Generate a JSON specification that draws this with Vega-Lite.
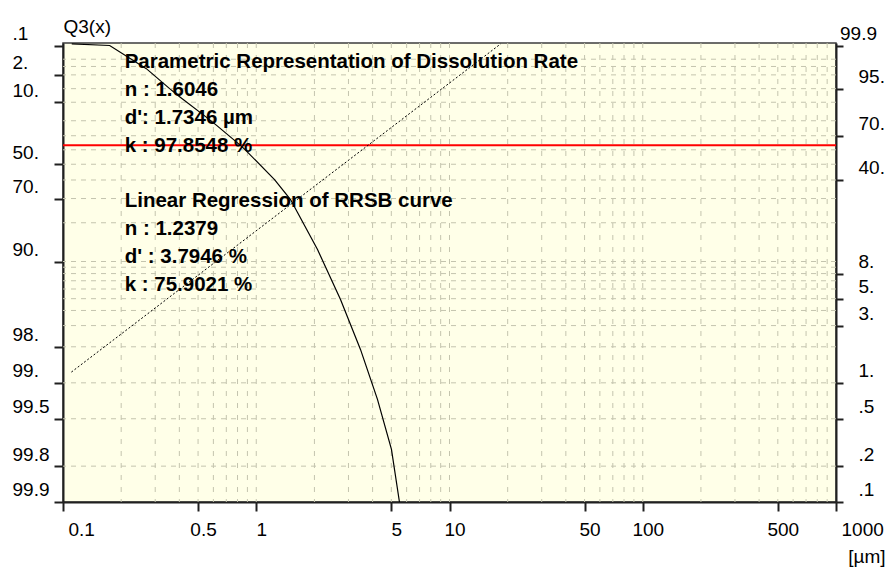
{
  "$schema": "https://vega.github.io/schema/vega-lite/v6.json",
  "width": 773,
  "height": 459,
  "autosize": {"type": "none"},
  "padding": {"left": 63, "top": 43, "right": 53, "bottom": 68},
  "background": "white",
  "config": {
    "view": {"fill": "#FFFFE8", "stroke": "#3C3C3C", "strokeWidth": 1.5},
    "axis": {
      "labelFont": "Liberation Sans",
      "titleFont": "Liberation Sans",
      "labelColor": "black",
      "titleColor": "black",
      "labelFontSize": 19,
      "titleFontSize": 19,
      "titleFontWeight": "normal",
      "domainColor": "#202020",
      "domainWidth": 2,
      "tickColor": "#202020",
      "tickWidth": 2,
      "grid": false,
      "labelOverlap": false
    }
  },
  "resolve": {"axis": {"y": "independent"}},
  "layer": [
    {
      "data": {"values": [
        {"q": 0.2}, {"q": 0.5}, {"q": 1}, {"q": 2}, {"q": 3}, {"q": 4}, {"q": 5}, {"q": 6}, {"q": 7}, {"q": 8}, {"q": 9},
        {"q": 10}, {"q": 20}, {"q": 30}, {"q": 40}, {"q": 50}, {"q": 60}, {"q": 70}, {"q": 80}, {"q": 90},
        {"q": 95}, {"q": 98}, {"q": 99}, {"q": 99.5}
      ]},
      "transform": [{"calculate": "log(-log(1 - datum.q/100))", "as": "t"}],
      "mark": {"type": "rule", "color": "#C4C4AE", "strokeDash": [5, 5], "strokeWidth": 1},
      "encoding": {
        "y": {
          "field": "t", "type": "quantitative",
          "scale": {"domain": [-6.9079, 1.9814], "nice": false, "zero": false},
          "axis": {
            "orient": "left",
            "values": [1.93264, 1.36405, 0.83403, -0.36651, -1.03093, -2.25037, -3.90194, -4.60015, -5.29581, -6.21361, -6.90726],
            "labelExpr": "round(1000*exp(-exp(datum.value)))/10 < 1 ? replace(format(round(1000*exp(-exp(datum.value)))/10, '.1f'), '0.', '.') : (round(1000*exp(-exp(datum.value)))/10 == floor(round(1000*exp(-exp(datum.value)))/10) ? format(round(1000*exp(-exp(datum.value)))/10, 'd') + '.' : format(round(1000*exp(-exp(datum.value)))/10, '.1f'))",
            "tickSize": 9,
            "labelAlign": "left",
            "labelPadding": 42,
            "labelBaseline": "alphabetic",
            "labelOffset": -6,
            "title": "Q3(x)",
            "titleAngle": 0,
            "titleAlign": "left",
            "titleBaseline": "alphabetic",
            "titleX": 0,
            "titleY": -11
          }
        }
      }
    },
    {
      "data": {"values": [
        {"size": 0.2}, {"size": 0.3}, {"size": 0.4}, {"size": 0.5}, {"size": 0.6}, {"size": 0.7}, {"size": 0.8}, {"size": 0.9},
        {"size": 1}, {"size": 2}, {"size": 3}, {"size": 4}, {"size": 5}, {"size": 6}, {"size": 7}, {"size": 8}, {"size": 9},
        {"size": 10}, {"size": 20}, {"size": 30}, {"size": 40}, {"size": 50}, {"size": 60}, {"size": 70}, {"size": 80}, {"size": 90},
        {"size": 100}, {"size": 200}, {"size": 300}, {"size": 400}, {"size": 500}, {"size": 600}, {"size": 700}, {"size": 800}, {"size": 900}
      ]},
      "mark": {"type": "rule", "color": "#C4C4AE", "strokeDash": [5, 7], "strokeWidth": 1},
      "encoding": {
        "x": {
          "field": "size", "type": "quantitative",
          "scale": {"type": "log", "domain": [0.1, 1000], "nice": false},
          "axis": {
            "orient": "bottom",
            "values": [0.1, 0.5, 1, 5, 10, 50, 100, 500, 1000],
            "labelExpr": "datum.value < 1 ? format(datum.value, '.1f') : format(datum.value, 'd')",
            "tickSize": 9,
            "labelBaseline": "alphabetic",
            "labelPadding": 24,
            "labelAlign": {"condition": {"test": "datum.value <= 0.1 || datum.value >= 1000", "value": "left"}, "value": "center"},
            "labelOffset": 5,
            "labelFlush": false,
            "title": "[µm]",
            "titleAlign": "right",
            "titleBaseline": "alphabetic",
            "titleX": 822,
            "titleY": 60
          }
        }
      }
    },
    {
      "data": {"values": [{"q": 63.21}]},
      "transform": [{"calculate": "log(-log(1 - datum.q/100))", "as": "t"}],
      "mark": {"type": "rule", "color": "#FF0000", "strokeWidth": 2},
      "encoding": {"y": {"field": "t", "type": "quantitative", "axis": null}}
    },
    {
      "data": {"values": [
        {"size": 0.1105, "q": 1.23},
        {"size": 1.429, "q": 25.75},
        {"size": 18.4, "q": 99.92}
      ]},
      "transform": [{"calculate": "log(-log(1 - datum.q/100))", "as": "t"}],
      "mark": {"type": "line", "color": "black", "strokeWidth": 1, "strokeDash": [2, 2]},
      "encoding": {
        "x": {"field": "size", "type": "quantitative"},
        "y": {"field": "t", "type": "quantitative", "axis": null}
      }
    },
    {
      "data": {"values": [
        {"size": 0.111, "q": 99.92},
        {"size": 0.1744, "q": 99.9},
        {"size": 0.2699, "q": 98.79},
        {"size": 0.3562, "q": 95.0},
        {"size": 0.4012, "q": 92.31},
        {"size": 0.5513, "q": 82.2},
        {"size": 0.6213, "q": 77.2},
        {"size": 0.8195, "q": 63.71},
        {"size": 0.87, "q": 60.51},
        {"size": 1.2434, "q": 40.24},
        {"size": 1.5047, "q": 29.51},
        {"size": 1.6353, "q": 23.81},
        {"size": 2.075, "q": 12.44},
        {"size": 2.729, "q": 4.925},
        {"size": 3.462, "q": 1.902},
        {"size": 4.239, "q": 0.727},
        {"size": 5.008, "q": 0.277},
        {"size": 5.508, "q": 0.1}
      ]},
      "transform": [{"calculate": "log(-log(1 - datum.q/100))", "as": "t"}],
      "mark": {"type": "line", "color": "black", "strokeWidth": 1.2},
      "encoding": {
        "x": {"field": "size", "type": "quantitative"},
        "y": {
          "field": "t", "type": "quantitative",
          "axis": {
            "orient": "right",
            "values": [1.93264, 1.09719, 0.18563, -0.67172, -2.48432, -2.9702, -3.49137, -4.60015, -5.29581, -6.21361, -6.90726],
            "labelExpr": "round(1000*(1-exp(-exp(datum.value))))/10 < 1 ? replace(format(round(1000*(1-exp(-exp(datum.value))))/10, '.1f'), '0.', '.') : (round(1000*(1-exp(-exp(datum.value))))/10 == floor(round(1000*(1-exp(-exp(datum.value))))/10) ? format(round(1000*(1-exp(-exp(datum.value))))/10, 'd') + '.' : format(round(1000*(1-exp(-exp(datum.value))))/10, '.1f'))",
            "tickSize": 7,
            "labelAlign": {"condition": {"test": "datum.value > 1.9", "value": "center"}, "value": "left"},
            "labelPadding": 15,
            "labelBaseline": "alphabetic",
            "labelOffset": -6,
            "title": null
          }
        }
      }
    },
    {
      "data": {"values": [
        {"size": 0.2085, "q": 98.857, "label": "Parametric Representation of Dissolution Rate\nn : 1.6046\nd': 1.7346 µm\nk : 97.8548 %"},
        {"size": 0.2085, "q": 26.32, "label": "Linear Regression of RRSB curve\nn : 1.2379\nd' : 3.7946 %\nk : 75.9021 %"}
      ]},
      "transform": [{"calculate": "log(-log(1 - datum.q/100))", "as": "t"}],
      "mark": {
        "type": "text", "align": "left", "baseline": "alphabetic", "lineBreak": "\n", "lineHeight": 28,
        "font": "Liberation Sans",
        "fontSize": 20.5, "fontWeight": "bold", "color": "black"
      },
      "encoding": {
        "x": {"field": "size", "type": "quantitative"},
        "y": {"field": "t", "type": "quantitative", "axis": null},
        "text": {"field": "label", "type": "nominal"}
      }
    }
  ]
}
